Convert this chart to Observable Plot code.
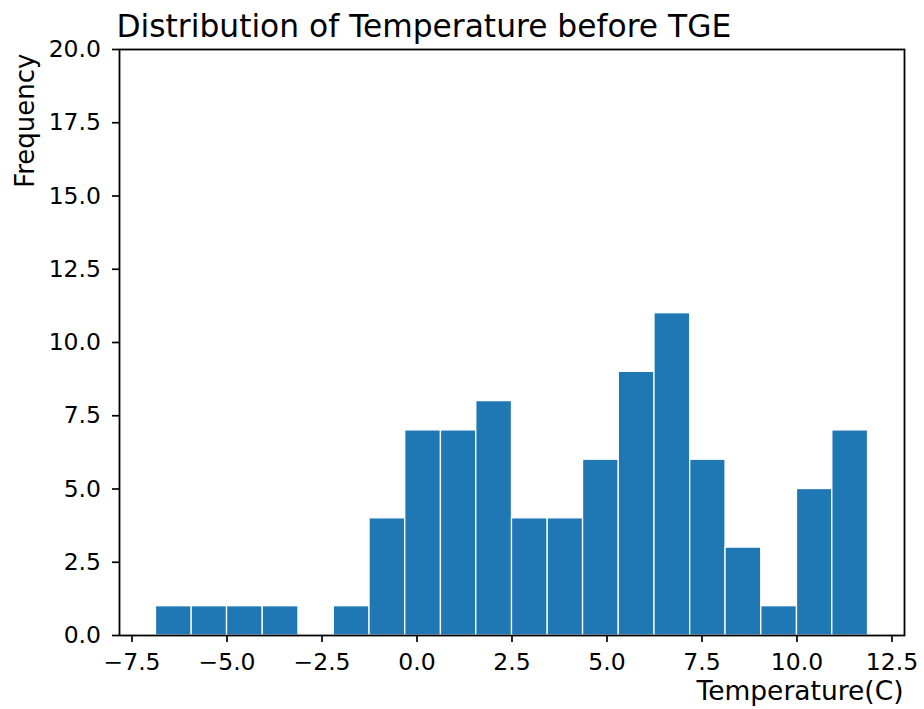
<!DOCTYPE html>
<html>
<head>
<meta charset="utf-8">
<script src="https://cdn.jsdelivr.net/npm/d3@7"></script>
<script src="https://cdn.jsdelivr.net/npm/@observablehq/plot@0.6"></script>
<style>
  html, body { margin: 0; padding: 0; background: #fff; }
  #chart svg { display: block; font-family: "DejaVu Sans", sans-serif; color: #000; }
</style>
</head>
<body>
<div id="chart"></div>
<script>
// Histogram bin edges (°C)
const binEdges = [-6.87, -5.93, -5.00, -4.06, -3.12, -2.19, -1.25, -0.31, 0.63, 1.56, 2.50,
                  3.44, 4.37, 5.31, 6.25, 7.19, 8.12, 9.06, 10.00, 10.93, 11.87];
// Frequency in each bin
const counts = [1, 1, 1, 1, 0, 1, 4, 7, 7, 8, 4, 4, 6, 9, 11, 6, 3, 1, 5, 7];
// Tick values
const xTicks = [-7.5, -5.0, -2.5, 0.0, 2.5, 5.0, 7.5, 10.0, 12.5];
const yTicks = [0, 2.5, 5, 7.5, 10, 12.5, 15, 17.5, 20];
// Texts
const titleText = "Distribution of Temperature before TGE";
const xLabel = "Temperature(C)";
const yLabel = "Frequency";

const bins = counts.map((c, i) => ({x1: binEdges[i], x2: binEdges[i + 1], count: c}));
const fmt = d3.format(".1f");

const chart = Plot.plot({
  width: 924,
  height: 709,
  marginLeft: 119,
  marginRight: 20,
  marginTop: 49,
  marginBottom: 74,
  style: {fontFamily: "DejaVu Sans, sans-serif", background: "#fff", color: "#000"},
  x: {domain: [-7.83, 12.83]},
  y: {domain: [0, 20]},
  marks: [
    Plot.rectY(bins, {
      x1: "x1", x2: "x2", y: "count",
      filter: d => d.count > 0,
      fill: "#1f77b4", stroke: "#fff", strokeWidth: 1.3
    }),
    Plot.axisX({
      ticks: xTicks, tickFormat: fmt, tickSize: 7, tickPadding: 10.5,
      fontSize: 23.5, label: null, strokeWidth: 1.7
    }),
    Plot.axisY({
      ticks: yTicks, tickFormat: fmt, tickSize: 7, tickPadding: 11.5,
      fontSize: 23.5, label: null, strokeWidth: 1.7
    }),
    Plot.frame({stroke: "#000", strokeWidth: 1.8}),
    Plot.text([titleText], {
      text: d => d, frameAnchor: "top-left", textAnchor: "start", lineAnchor: "bottom",
      dx: -3, dy: -13, fontSize: 31.3, fill: "#000"
    }),
    Plot.text([xLabel], {
      text: d => d, frameAnchor: "bottom-right", textAnchor: "end", lineAnchor: "bottom",
      dx: -1, dy: 64, fontSize: 26.5, fill: "#000"
    }),
    Plot.text([yLabel], {
      text: d => d, frameAnchor: "top-left", textAnchor: "end", lineAnchor: "bottom",
      rotate: -90, dx: -86, dy: 4, fontSize: 26, fill: "#000"
    })
  ]
});
document.getElementById("chart").appendChild(chart);
</script>
</body>
</html>
